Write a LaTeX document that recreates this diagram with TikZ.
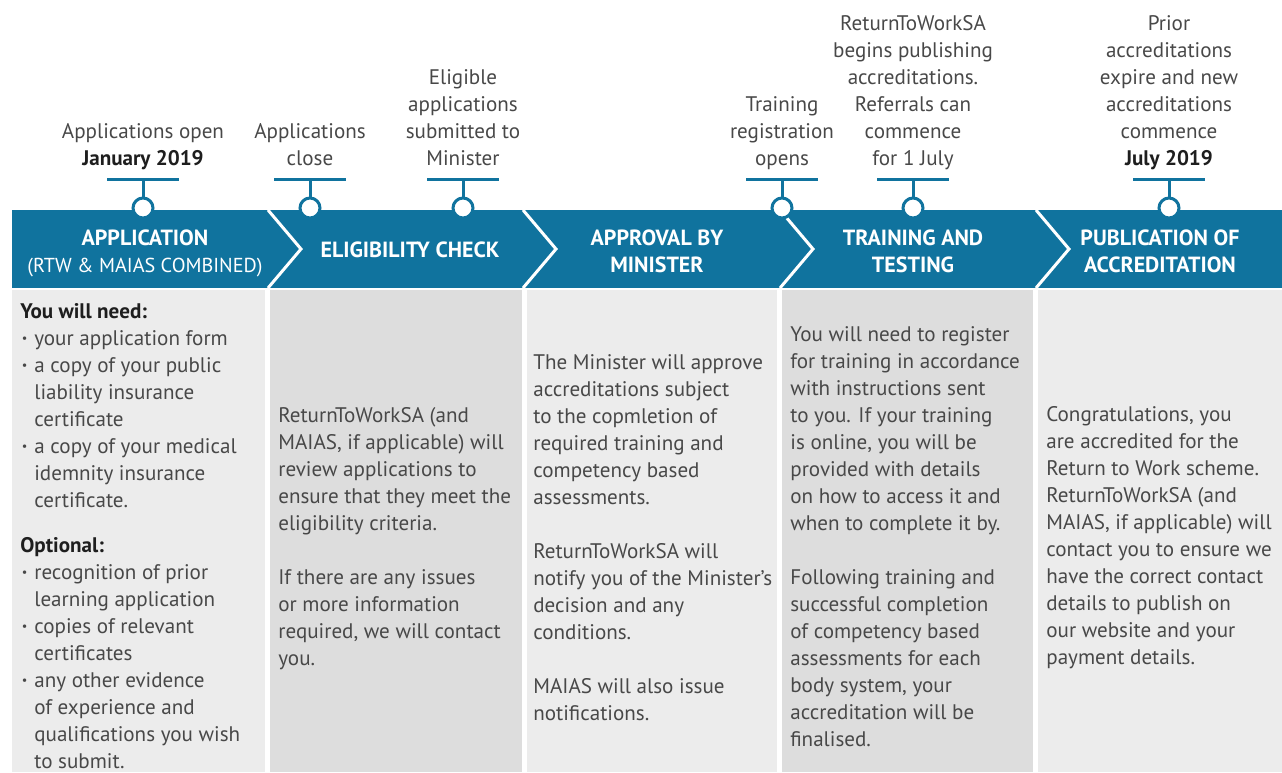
\documentclass[tikz,border=0pt]{standalone}
\usepackage{fontspec}
\setmainfont{PT Sans}
\usetikzlibrary{positioning}

\definecolor{rtwblue}{RGB}{16,115,158}
\definecolor{panellight}{RGB}{236,236,236}
\definecolor{paneldark}{RGB}{221,221,221}
\definecolor{bodygrey}{RGB}{72,72,72}
\definecolor{headgrey}{RGB}{30,30,30}

\newlength{\bulletgap}
\setlength{\bulletgap}{0.28cm}
\newcommand{\itm}{\makebox[\bulletgap][l]{\hspace{0.03cm}\raisebox{0.12em}{\scriptsize\textbullet}}}
\newcommand{\cont}{\hspace*{\bulletgap}}

\begin{document}
\begin{tikzpicture}[x=0.02cm, y=-0.02cm,
  every node/.style={inner sep=0pt},
  toplabel/.style={align=center, text=bodygrey, font=\fontsize{12}{15.36}\selectfont},
  stagehead/.style={align=center, text=white, font=\fontsize{12.5}{15.36}\selectfont\bfseries},
  coltext/.style={anchor=base west, align=left, text=bodygrey, font=\fontsize{12}{15.36}\selectfont},
  marker/.style={circle, draw=rtwblue, fill=white, line width=0.06cm, minimum size=0.4cm},
  tickbar/.style={rectangle, fill=rtwblue, minimum width=1.44cm, minimum height=0.06cm},
  stem/.style={draw=rtwblue, line width=0.06cm},
  chevron/.style={draw=white, line width=0.06cm},
]
\useasboundingbox (0,0) rectangle (1282,772);

% Panels
\fill[panellight] (12,290) rectangle (265,772);
\fill[paneldark] (270,290) rectangle (522,772);
\fill[panellight] (527,290) rectangle (777,772);
\fill[paneldark] (782,290) rectangle (1033,772);
\fill[panellight] (1038,290) rectangle (1282,772);

% Band
\fill[rtwblue] (12,210) rectangle (1282,288);
\draw[chevron] (268,210) -- (301,249) -- (268,288);
\draw[chevron] (523,210) -- (556,249) -- (523,288);
\draw[chevron] (780,210) -- (813,249) -- (780,288);
\draw[chevron] (1036,210) -- (1069,249) -- (1036,288);

% Stage headings
\node[stagehead] (application) at (145,253) {APPLICATION\\\mdseries\fontsize{11.5}{15.36}\selectfont(RTW \& MAIAS COMBINED)};
\node[stagehead] (eligibility) at (410,250) {ELIGIBILITY CHECK};
\node[stagehead] (approval) at (657,251) {APPROVAL BY\\MINISTER};
\node[stagehead] (training) at (913,251) {TRAINING AND\\TESTING};
\node[stagehead] (publication) at (1160,251) {PUBLICATION OF\\ACCREDITATION};

% Markers
\node[tickbar] (bar1) at (143,179) {};
\node[marker] (open) at (143,208) {};
\node[tickbar] (bar2) at (310,179) {};
\node[marker] (close) at (310,208) {};
\node[tickbar] (bar3) at (463,179) {};
\node[marker] (submit) at (463,208) {};
\node[tickbar] (bar4) at (782,179) {};
\node[marker] (register) at (782,208) {};
\node[tickbar] (bar5) at (913,179) {};
\node[marker] (publish) at (913,208) {};
\node[tickbar] (bar6) at (1169,179) {};
\node[marker] (expire) at (1169,208) {};

\draw[stem] (open) -- (bar1);
\draw[stem] (close) -- (bar2);
\draw[stem] (submit) -- (bar3);
\draw[stem] (register) -- (bar4);
\draw[stem] (publish) -- (bar5);
\draw[stem] (expire) -- (bar6);

% Marker labels
\node[toplabel, above=2pt of bar1] (open_lbl) {Applications open\\{\color{headgrey}\bfseries January 2019}\strut};
\node[toplabel, above=2pt of bar2] (close_lbl) {Applications\\close\strut};
\node[toplabel, above=2pt of bar3] (submit_lbl) {Eligible\\applications\\submitted to\\Minister\strut};
\node[toplabel, above=2pt of bar4] (register_lbl) {Training\\registration\\opens\strut};
\node[toplabel, above=2pt of bar5] (publish_lbl) {ReturnToWorkSA\\begins publishing\\accreditations.\\Referrals can\\commence\\for 1 July\strut};
\node[toplabel, above=2pt of bar6] (expire_lbl) {Prior\\accreditations\\expire and new\\accreditations\\commence\\{\color{headgrey}\bfseries July 2019}\strut};

% Column texts (placed at the baseline of their last line)
\node[coltext] (need_txt) at (20,768) {{\color{headgrey}\bfseries You will need:}\\
\itm your application form\\
\itm a copy of your public\\
\cont liability insurance\\
\cont certificate\\
\itm a copy of your medical\\
\cont idemnity insurance\\
\cont certificate.\\[0.36cm]
{\color{headgrey}\bfseries Optional:}\\
\itm recognition of prior\\
\cont learning application\\
\itm copies of relevant\\
\cont certificates\\
\itm any other evidence\\
\cont of experience and\\
\cont qualifications you wish\\
\cont to submit.};

\node[coltext] (check_txt) at (278,665) {ReturnToWorkSA (and\\
MAIAS, if applicable) will\\
review applications to\\
ensure that they meet the\\
eligibility criteria.\\[0.54cm]
If there are any issues\\
or more information\\
required, we will contact\\
you.};

\node[coltext] (approve_txt) at (533,720) {The Minister will approve\\
accreditations subject\\
to the copmletion of\\
required training and\\
competency based\\
assessments.\\[0.54cm]
ReturnToWorkSA will\\
notify you of the Minister's\\
decision and any\\
conditions.\\[0.54cm]
MAIAS will also issue\\
notifications.};

\node[coltext] (train_txt) at (790,746) {You will need to register\\
for training in accordance\\
with instructions sent\\
to you. If your training\\
is online, you will be\\
provided with details\\
on how to access it and\\
when to complete it by.\\[0.54cm]
Following training and\\
successful completion\\
of competency based\\
assessments for each\\
body system, your\\
accreditation will be\\
finalised.};

\node[coltext] (publish_txt) at (1046,664) {Congratulations, you\\
are accredited for the\\
Return to Work scheme.\\
ReturnToWorkSA (and\\
MAIAS, if applicable) will\\
contact you to ensure we\\
have the correct contact\\
details to publish on\\
our website and your\\
payment details.};

\end{tikzpicture}
\end{document}
